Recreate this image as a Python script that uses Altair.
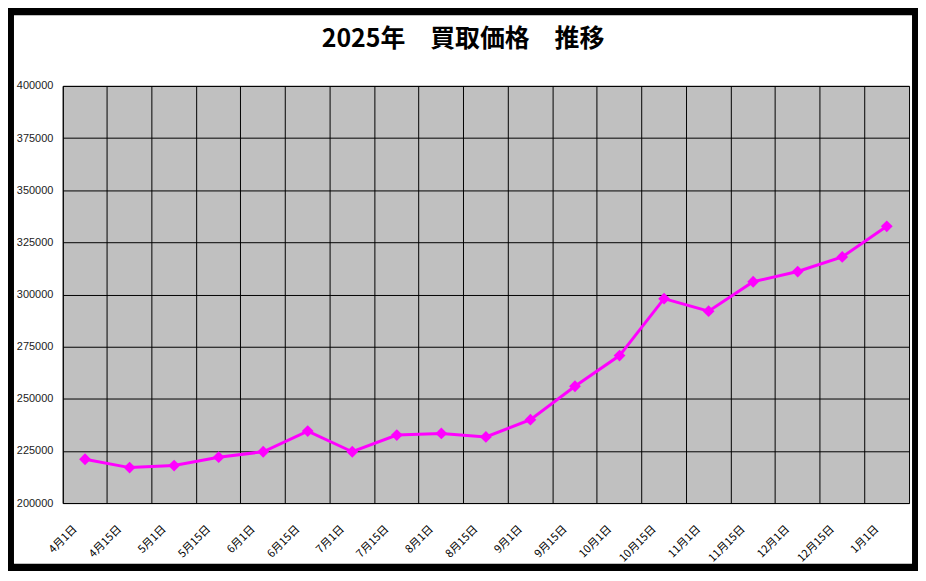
import altair as alt
import pandas as pd

dates = ["4月1日", "4月15日", "5月1日", "5月15日", "6月1日", "6月15日", "7月1日",
         "7月15日", "8月1日", "8月15日", "9月1日", "9月15日", "10月1日", "10月15日",
         "11月1日", "11月15日", "12月1日", "12月15日", "1月1日"]
prices = [221000, 217000, 218000, 222000, 224600, 234500, 224600,
          232600, 233400, 231700, 240000, 256000, 270700, 298000,
          292000, 306100, 311000, 318000, 332700]
y_ticks = [200000, 225000, 250000, 275000, 300000, 325000, 350000, 375000, 400000]

df = pd.DataFrame({"date": dates, "price": prices})

PLOT_W, PLOT_H = 850, 419
PAD_L, PAD_T = 55, 77
TOTAL_W, TOTAL_H = 914, 563

line = alt.Chart(df).mark_line(
    color="#FF00FF", strokeWidth=3,
    point=alt.OverlayMarkDef(shape="diamond", size=140, filled=True, color="#FF00FF", opacity=1),
).encode(
    x=alt.X("date:N", sort=dates,
            scale=alt.Scale(type="band", paddingInner=0, paddingOuter=0),
            axis=alt.Axis(title=None, labelAngle=-45, bandPosition=0, grid=True,
                          gridColor="black", gridOpacity=1, gridWidth=1,
                          ticks=False, domain=False, labelOffset=-14, labelPadding=20,
                          labelFont="Noto Sans CJK JP", labelFontSize=11,
                          labelColor="black")),
    y=alt.Y("price:Q",
            scale=alt.Scale(domain=[200000, 400000], nice=False, zero=False),
            axis=alt.Axis(title=None, values=y_ticks, format="d", grid=True,
                          gridColor="black", gridOpacity=1, gridWidth=1,
                          ticks=False, domain=False, labelPadding=10,
                          labelFont="Liberation Sans", labelFontSize=11,
                          labelColor="#222222")),
)

frame = alt.Chart(alt.Data(values=[{"k": 1}])).mark_rect(
    filled=False, stroke="black", strokeWidth=12
).encode(
    x=alt.value(-PAD_L), x2=alt.value(TOTAL_W - PAD_L),
    y=alt.value(-PAD_T), y2=alt.value(TOTAL_H - PAD_T),
)

chart = alt.layer(frame, line).properties(
    width=PLOT_W, height=PLOT_H,
    title=alt.TitleParams("2025年　買取価格　推移", font="Noto Sans CJK JP",
                          fontSize=25, fontWeight="bold", color="black",
                          anchor="middle", frame="group", dx=-23, offset=-49),
    autosize=alt.AutoSizeParams(type="none"),
    padding={"left": PAD_L, "top": PAD_T, "right": TOTAL_W - PAD_L - PLOT_W,
             "bottom": TOTAL_H - PAD_T - PLOT_H},
).configure_view(
    fill="#C0C0C0", stroke="black", strokeWidth=1
)

chart.save("out.html", embed_options={"renderer": "svg", "actions": False})
